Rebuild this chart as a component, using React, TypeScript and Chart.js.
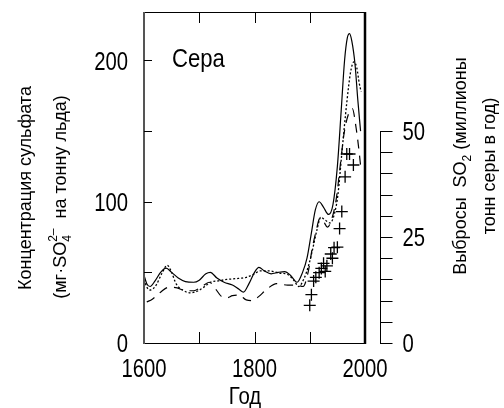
import React, { useEffect, useRef } from "react";
import { Chart, registerables } from "chart.js";

Chart.register(...registerables);

// ---- data ----
const solidYears = [1600, 1605, 1611, 1620, 1630, 1640, 1650, 1662, 1675, 1690, 1700, 1712, 1720, 1732, 1745, 1760, 1772, 1780, 1790, 1800, 1808, 1818, 1830, 1843, 1855, 1865, 1877, 1887, 1895, 1903, 1910, 1917, 1925, 1934, 1942, 1950, 1957, 1963, 1968, 1972, 1976, 1982, 1987, 1992];
const solidValues = [48, 42, 40, 44, 50, 53, 50, 46, 43.5, 43, 44.5, 49, 50, 46, 43, 41, 38, 36, 42, 50, 53.5, 51, 49, 50, 50.5, 48, 43, 50, 60, 78, 94, 100, 96, 91, 98, 125, 165, 200, 216, 219, 214, 197, 172, 150];

const dottedYears = [1600, 1606, 1612, 1622, 1632, 1642, 1650, 1658, 1670, 1685, 1698, 1710, 1720, 1735, 1750, 1765, 1785, 1800, 1810, 1828, 1845, 1860, 1872, 1880, 1890, 1898, 1905, 1913, 1920, 1928, 1937, 1945, 1951, 1958, 1967, 1974, 1980, 1985, 1990, 1993];
const dottedValues = [45, 39, 37.5, 41, 49, 55, 50, 42, 37.5, 35.5, 37, 40, 43, 44, 45, 45.5, 46.5, 49, 51, 51, 49.5, 48.5, 44, 40, 46, 55, 66, 80, 89, 87, 85, 92, 105, 134, 170, 192, 199, 195, 183, 178];

const dashedYears = [1605, 1615, 1630, 1645, 1660, 1675, 1690, 1705, 1718, 1730, 1740, 1750, 1760, 1772, 1785, 1797, 1808, 1822, 1840, 1860, 1875, 1888, 1897, 1905, 1912, 1918, 1925, 1932, 1940, 1948, 1955, 1962, 1970, 1977, 1984, 1988, 1993];
const dashedValues = [29, 31, 36, 39.5, 39, 37, 37, 40, 43, 38, 33, 32, 33.5, 34, 30.5, 30, 33, 38, 42, 41, 41, 40, 50, 68, 80, 88, 86, 82, 88, 102, 125, 148, 162, 166, 152, 140, 122];

const emissionYears = [1900, 1903, 1907, 1911, 1917, 1921, 1925, 1928, 1931, 1938, 1941, 1944, 1950, 1954, 1958, 1964, 1967, 1972, 1979];
const emissionValues = [8.9, 11.4, 14.6, 15.5, 16.6, 17.6, 18.8, 16.9, 18.2, 21, 20, 22.5, 22.6, 27, 31, 39.2, 44.6, 44.6, 42];

const xTickLabels = [1600, 1800, 2000];
const xInnerTicks = [1700, 1800, 1900];
const yTickLabels = [0, 100, 200];
const yInnerTicks = [50, 100, 150, 200];
const y2TickLabels = [0, 25, 50];
const y2TickStep = 5;
const y2TickMax = 50;

const FONT = "'Liberation Sans', Arial, sans-serif";

function pts(xs: number[], ys: number[]) {
  return xs.map((x, i) => ({ x, y: ys[i] }));
}

function txt(ctx: CanvasRenderingContext2D, s: string, x: number, y: number, size: number, align: CanvasTextAlign, sx = 1) {
  ctx.save();
  ctx.translate(x, y);
  ctx.scale(sx, 1);
  ctx.font = `${size}px ${FONT}`;
  ctx.textAlign = align;
  ctx.textBaseline = "alphabetic";
  ctx.fillStyle = "#000";
  ctx.fillText(s, 0, 0);
  ctx.restore();
}

type Seg = { t: string; size: number; dy?: number; stackWith?: { t: string; size: number; dy: number } };

function richRotated(ctx: CanvasRenderingContext2D, segs: Seg[], x: number, y: number) {
  ctx.save();
  ctx.translate(x, y);
  ctx.rotate(-Math.PI / 2);
  ctx.fillStyle = "#000";
  ctx.textBaseline = "alphabetic";
  ctx.textAlign = "left";
  const widths = segs.map((s) => {
    ctx.font = `${s.size}px ${FONT}`;
    let w = ctx.measureText(s.t).width;
    if (s.stackWith) {
      ctx.font = `${s.stackWith.size}px ${FONT}`;
      w = Math.max(w, ctx.measureText(s.stackWith.t).width);
    }
    return w;
  });
  const total = widths.reduce((a, b) => a + b, 0);
  let cx = -total / 2;
  segs.forEach((s, i) => {
    ctx.font = `${s.size}px ${FONT}`;
    ctx.fillText(s.t, cx, s.dy || 0);
    if (s.stackWith) {
      ctx.font = `${s.stackWith.size}px ${FONT}`;
      ctx.fillText(s.stackWith.t, cx, s.stackWith.dy);
    }
    cx += widths[i];
  });
  ctx.restore();
}

const decorPlugin = {
  id: "decor",
  afterDraw(chart: any) {
    const { ctx, chartArea: a, scales } = chart;
    const xs = scales.x, ys = scales.y, y2 = scales.y2;
    const line = (x1: number, y1: number, x2: number, y2_: number) => {
      ctx.beginPath();
      ctx.moveTo(x1, y1);
      ctx.lineTo(x2, y2_);
      ctx.stroke();
    };
    ctx.save();
    ctx.strokeStyle = "#000";
    ctx.lineWidth = 1;
    // frame
    line(a.left, a.top + 0.5, a.right, a.top + 0.5);
    line(a.left, a.bottom + 0.5, a.right, a.bottom + 0.5);
    ctx.lineWidth = 2;
    ctx.strokeStyle = "#555";
    line(a.left, a.top, a.left, a.bottom + 1);
    ctx.strokeStyle = "#000";
    ctx.lineWidth = 2.5;
    line(a.right, a.top, a.right, a.bottom + 1);
    ctx.lineWidth = 1;
    // inner ticks
    xInnerTicks.forEach((v) => {
      const px = Math.round(xs.getPixelForValue(v)) + 0.5;
      line(px, a.bottom, px, a.bottom - 11);
      line(px, a.top, px, a.top + 11);
    });
    yInnerTicks.forEach((v) => {
      const py = Math.round(ys.getPixelForValue(v)) + 0.5;
      line(a.left, py, a.left + 8, py);
    });
    // right emission axis
    const ax = Math.round(a.right + 15) + 0.5;
    line(ax, y2.getPixelForValue(0) + 0.5, ax, y2.getPixelForValue(y2TickMax));
    for (let v = 0; v <= y2TickMax; v += y2TickStep) {
      const py = Math.round(y2.getPixelForValue(v)) + 0.5;
      line(ax - 0.5, py, ax + 12, py);
    }
    ctx.restore();

    // tick labels
    yTickLabels.forEach((v) => txt(ctx, String(v), a.left - 16, ys.getPixelForValue(v) + 9.3, 26, "right", 0.78));
    xTickLabels.forEach((v) => txt(ctx, String(v), xs.getPixelForValue(v), a.bottom + 34, 26, "center", 0.78));
    y2TickLabels.forEach((v) => txt(ctx, String(v), ax + 22, y2.getPixelForValue(v) + 9.3, 26, "left", 0.78));

    // annotations / titles
    txt(ctx, "Сера", a.left + 28, a.top + 55, 26, "left", 0.85);
    txt(ctx, "Год", 245, 404, 24, "center", 0.85);

    richRotated(ctx, [{ t: "Концентрация сульфата", size: 18 }], 31, 188);
    richRotated(
      ctx,
      [
        { t: "(мг·SO", size: 18 },
        { t: "4", size: 12, dy: 5, stackWith: { t: "2–", size: 12, dy: -9 } },
        { t: "  на тонну льда)", size: 18 },
      ],
      66,
      197
    );
    richRotated(
      ctx,
      [
        { t: "Выбросы  SO", size: 18 },
        { t: "2", size: 12, dy: 5 },
        { t: " (миллионы", size: 18 },
      ],
      466,
      166
    );
    richRotated(ctx, [{ t: "тонн серы в год)", size: 18 }], 495, 166);
  },
};

export default function App() {
  const ref = useRef<HTMLCanvasElement | null>(null);
  useEffect(() => {
    if (!ref.current) return;
    const chart = new Chart(ref.current, {
      type: "line",
      data: {
        datasets: [
          {
            label: "solid",
            data: pts(solidYears, solidValues),
            borderColor: "#000",
            borderWidth: 1.2,
            pointRadius: 0,
            cubicInterpolationMode: "monotone",
            fill: false,
          },
          {
            label: "dotted",
            data: pts(dottedYears, dottedValues),
            borderColor: "#000",
            borderWidth: 1.3,
            borderDash: [2, 2],
            pointRadius: 0,
            cubicInterpolationMode: "monotone",
            fill: false,
          },
          {
            label: "dashed",
            data: pts(dashedYears, dashedValues),
            borderColor: "#000",
            borderWidth: 1.2,
            borderDash: [9, 7],
            pointRadius: 0,
            cubicInterpolationMode: "monotone",
            fill: false,
          },
          {
            type: "scatter",
            label: "emissions",
            data: pts(emissionYears, emissionValues),
            yAxisID: "y2",
            borderColor: "#000",
            backgroundColor: "#000",
            pointStyle: "cross",
            pointRadius: 6,
            pointBorderWidth: 1.3,
            showLine: false,
          } as any,
        ],
      },
      options: {
        animation: false,
        responsive: true,
        maintainAspectRatio: false,
        layout: { padding: { left: 144, right: 139, top: 12, bottom: 65 } },
        plugins: { legend: { display: false }, tooltip: { enabled: false } },
        scales: {
          x: { type: "linear", min: 1600, max: 2000, display: false },
          y: { min: 0, max: 234.3, display: false },
          y2: { min: 0, max: 78.1, display: false, position: "right" },
        },
      },
      plugins: [decorPlugin],
    });
    return () => chart.destroy();
  }, []);
  return (
    <div style={{ position: "absolute", left: 0, top: 0, width: 504, height: 408, background: "#fff" }}>
      <canvas ref={ref} />
    </div>
  );
}
